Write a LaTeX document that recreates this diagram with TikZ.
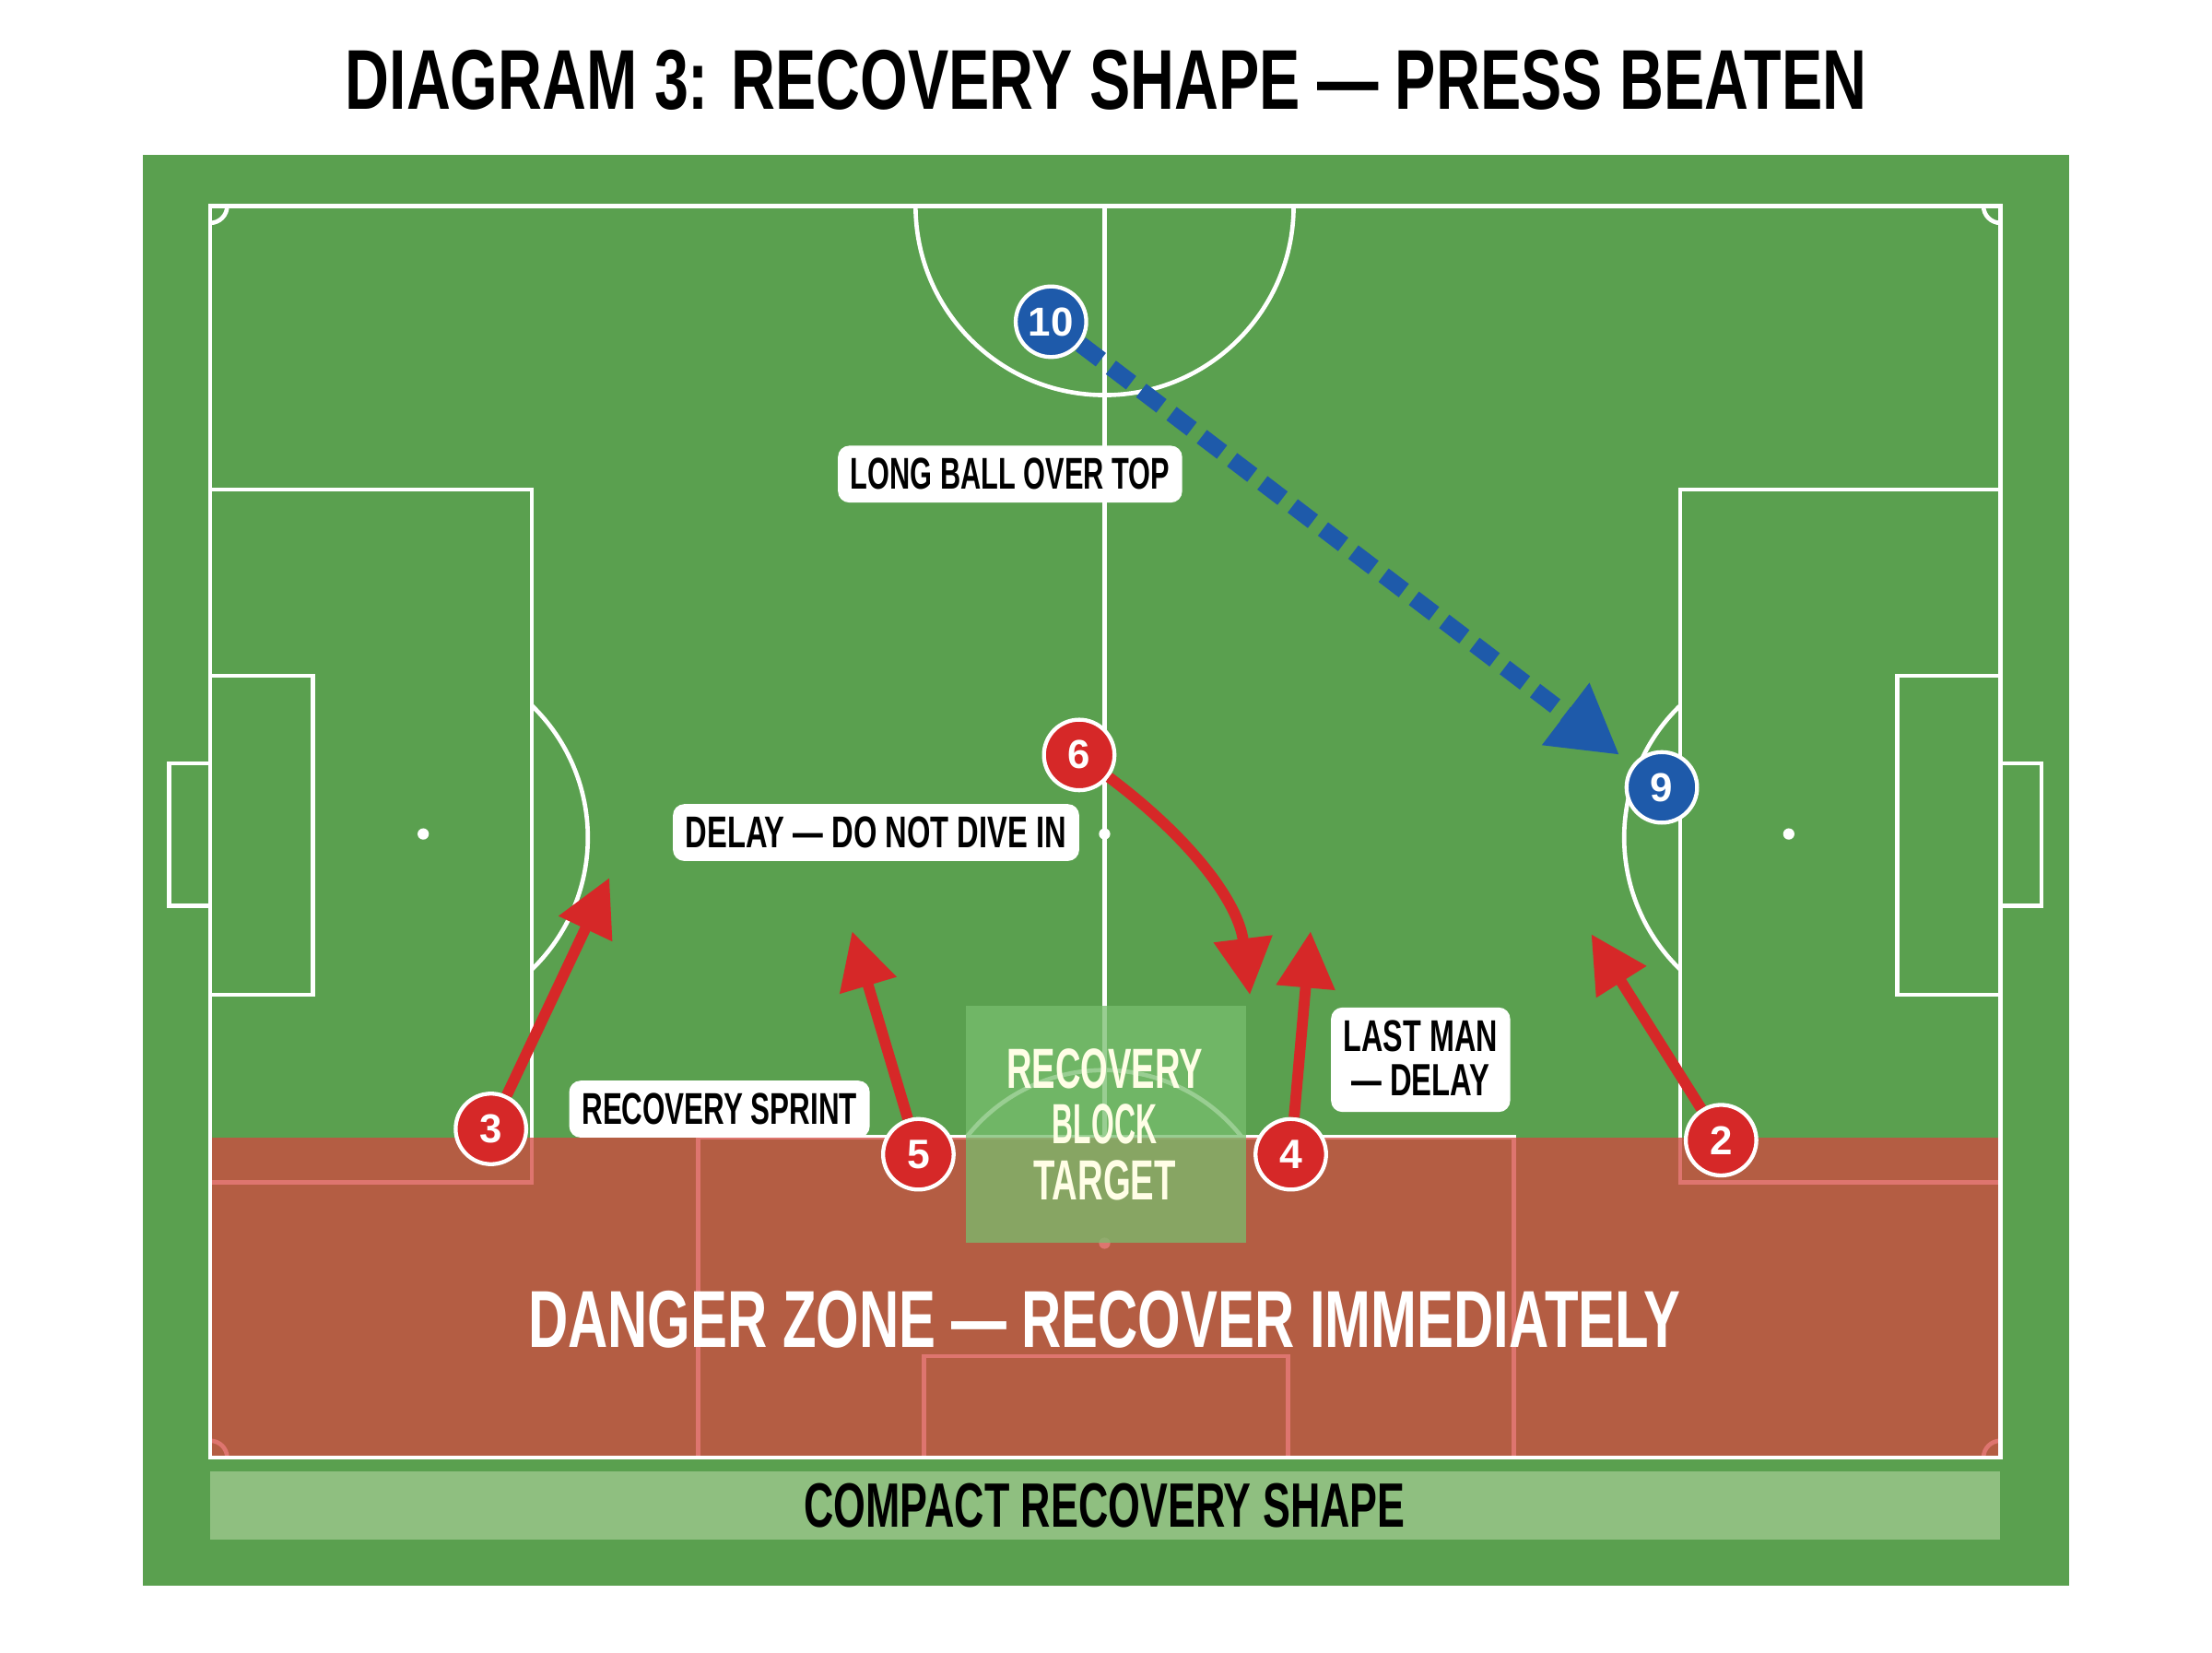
\documentclass[tikz,border=0pt]{standalone}
\usepackage{fontspec}
\setmainfont{Liberation Sans}
\usetikzlibrary{arrows.meta}
\definecolor{pitch}{RGB}{90,160,79}
\definecolor{dz}{RGB}{211,71,64}
\definecolor{pred}{RGB}{214,40,40}
\definecolor{pblue}{RGB}{30,90,170}
\definecolor{bar}{RGB}{143,191,128}
\definecolor{blk}{RGB}{120,190,110}
\newcommand\fitt[3]{\resizebox{#1}{#2}{\bfseries #3}}
\tikzset{
 pl/.style={draw=white,line width=4.3pt},
 redp/.style={circle,fill=pred,draw=white,line width=4pt,minimum size=2.5cm,inner sep=0pt,text=white},
 bluep/.style={circle,fill=pblue,draw=white,line width=4pt,minimum size=2.5cm,inner sep=0pt,text=white},
 rarrow/.style={draw=pred,line width=11pt,-{Triangle[length=2cm,width=2cm]}},
 barrow/.style={draw=pblue,line width=17pt,dash pattern=on 0.9cm off 0.45cm,-{Triangle[length=2.4cm,width=2.6cm]}},
 lab/.style={fill=white,rounded corners=0.4cm,inner xsep=0.45cm,inner ysep=0.45cm,text=black}
}
\begin{document}
\begin{tikzpicture}[x=0.05cm,y=-0.05cm]
\useasboundingbox (0,0) rectangle (1568,1171);
\fill[white] (0,0) rectangle (1568,1171);
\node (title) at (784,57) {\fitt{53.9cm}{2.1cm}{DIAGRAM 3: RECOVERY SHAPE — PRESS BEATEN}};
\fill[pitch] (101,110) rectangle (1467,1124);
% pitch lines
\draw[pl] (149,146) rectangle (1418,1033);
\draw[pl] (783,146) -- (783,806);
\draw[pl] (649,146) arc[start angle=180,end angle=0,radius=134];
\draw[pl] (149,347) rectangle (377,838);
\draw[pl] (149,479) rectangle (222,705);
\draw[pl] (149,541) -- (120,541) -- (120,642) -- (149,642);
\draw[pl] (377,500) arc[start angle=-46,end angle=46,radius=130] ;
\draw[pl] (1191,347) rectangle (1418,838);
\draw[pl] (1345,479) rectangle (1418,705);
\draw[pl] (1418,541) -- (1447,541) -- (1447,642) -- (1418,642);
\draw[pl] (1191,500) arc[start angle=226,end angle=134,radius=130];
\draw[pl] (495,1033) -- (495,806) -- (1073,806) -- (1073,1033);
\draw[pl] (655,1033) -- (655,961) -- (913,961) -- (913,1033);
\draw[pl] (685,806) arc[start angle=218,end angle=322,radius=124];
\fill[white] (300,591) circle (4) (1268,591) circle (4) (783,591) circle (4) (783,881) circle (4);
\draw[pl] (161,146) arc[start angle=0,end angle=90,radius=12];
\draw[pl] (1406,146) arc[start angle=180,end angle=90,radius=12];
\draw[pl] (161,1033) arc[start angle=0,end angle=-90,radius=12];
\draw[pl] (1406,1033) arc[start angle=180,end angle=270,radius=12];
% danger zone
\fill[dz,opacity=0.75] (149,806) rectangle (1418,1033);
\draw[pl] (149,806) -- (149,1033) -- (1418,1033) -- (1418,806);
\fill[blk,opacity=0.75] (685,713) rectangle (883,881);
\node[text=white!90!yellow] (blocktxt) at (783,798) {\begin{tabular}{c}\fitt{6.95cm}{1.4cm}{RECOVERY}\\[0.45cm]\fitt{3.7cm}{1.4cm}{BLOCK}\\[0.45cm]\fitt{5.05cm}{1.4cm}{TARGET}\end{tabular}};
\node[text=white] (dangertxt) at (783,935) {\fitt{40.85cm}{2cm}{DANGER ZONE — RECOVER IMMEDIATELY}};
\fill[bar] (149,1043) rectangle (1418,1091);
\node (bartxt) at (783,1067) {\fitt{21.3cm}{1.55cm}{COMPACT RECOVERY SHAPE}};
% labels
\node[lab] (l1) at (716,336) {\fitt{11.3cm}{1.1cm}{LONG BALL OVER TOP}};
\node[lab] (l2) at (621,590) {\fitt{13.5cm}{1.1cm}{DELAY — DO NOT DIVE IN}};
\node[lab] (l3) at (510,786) {\fitt{9.75cm}{1.1cm}{RECOVERY SPRINT}};
\node[lab] (l4) at (1007,751) {\begin{tabular}{@{}c@{}}\fitt{5.45cm}{1.1cm}{LAST MAN}\\[0.35cm]\fitt{4.9cm}{1.1cm}{— DELAY}\end{tabular}};
% players
\node[bluep] (p10) at (745,228) {\resizebox{!}{1cm}{\bfseries 10}};
\node[bluep] (p9) at (1178,558) {\resizebox{!}{1cm}{\bfseries 9}};
\node[redp] (p6) at (765,535) {\resizebox{!}{1cm}{\bfseries 6}};
\node[redp] (p3) at (348,800) {\resizebox{!}{1cm}{\bfseries 3}};
\node[redp] (p5) at (651,818) {\resizebox{!}{1cm}{\bfseries 5}};
\node[redp] (p4) at (915,818) {\resizebox{!}{1cm}{\bfseries 4}};
\node[redp] (p2) at (1220,808) {\resizebox{!}{1cm}{\bfseries 2}};
\coordinate (t9) at (1148,535);
\coordinate (t3) at (432,622);
\coordinate (t5) at (604,660);
\coordinate (t6) at (886,705);
\coordinate (t4) at (929,660);
\coordinate (t2) at (1128,662);
\draw[barrow] (p10) -- (t9);
\draw[rarrow] (p3) -- (t3);
\draw[rarrow] (p5) -- (t5);
\draw[rarrow] (p4) -- (t4);
\draw[rarrow] (p2) -- (t2);
\draw[rarrow] (p6) .. controls (845,595) and (878,640) .. (t6);
\end{tikzpicture}
\end{document}
